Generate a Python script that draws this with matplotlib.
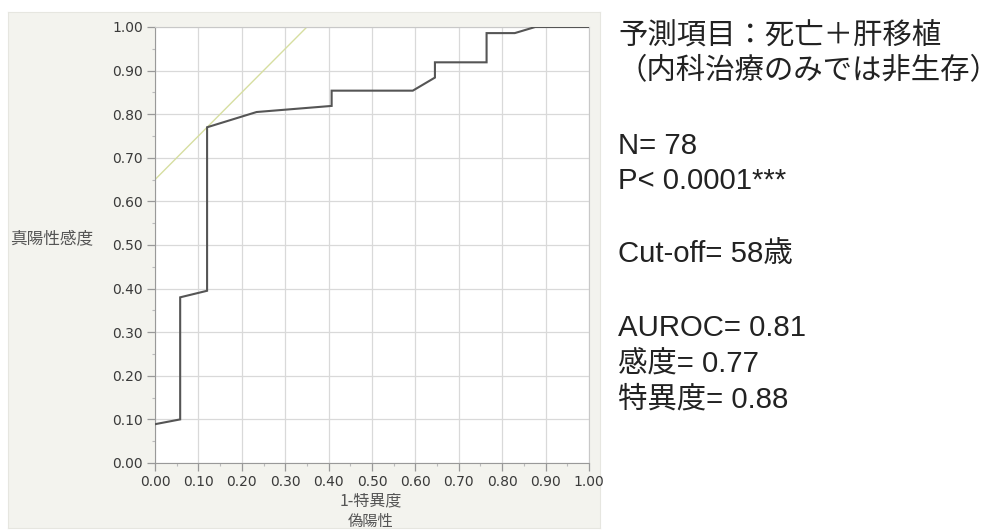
import matplotlib
matplotlib.use("Agg")
import matplotlib.pyplot as plt
from matplotlib.ticker import MultipleLocator, FormatStrFormatter

# ROC curve (1 - specificity vs. sensitivity)
fpr = [0.0, 0.058, 0.058, 0.12, 0.12, 0.234, 0.407, 0.407, 0.594, 0.645, 0.645,
       0.764, 0.764, 0.829, 0.876, 1.0]
tpr = [0.089, 0.10, 0.38, 0.395, 0.77, 0.805, 0.819, 0.854, 0.854, 0.884, 0.919,
       0.919, 0.986, 0.986, 1.0, 1.0]

# Optimal cut-off point
cut_sens = 0.77
cut_spec = 0.88

ytick_vals = [i / 10 for i in range(11)]
xtick_vals = [i / 10 for i in range(11)]

ylabel_text = "真陽性感度"
xlabel_text = "1-特異度"
xlabel2_text = "偽陽性"

info_lines = [
    ("予測項目：死亡＋肝移植", 36),
    ("（内科治療のみでは非生存）", 71),
    ("N= 78", 146),
    ("P< 0.0001***", 181),
    ("Cut-off= 58歳", 254),
    ("AUROC= 0.81", 328),
    ("感度= 0.77", 364),
    ("特異度= 0.88", 400),
]

W, H = 999, 530
fig = plt.figure(figsize=(W / 100, H / 100), dpi=100)
fig.patch.set_facecolor("white")

# light panel behind the plot
bg = fig.add_axes([8 / W, 1 - 528 / H, (600 - 8) / W, (528 - 12) / H], zorder=-5)
bg.set_facecolor("#f3f3ee")
bg.set_xticks([])
bg.set_yticks([])
for s in bg.spines.values():
    s.set_color("#e6e6e0")
    s.set_linewidth(0.8)

ax = fig.add_axes([155 / W, 1 - 463 / H, 434 / W, 436 / H], zorder=2)
ax.set_facecolor("white")
ax.set_xlim(0, 1)
ax.set_ylim(0, 1)

ax.xaxis.set_major_locator(MultipleLocator(0.1))
ax.yaxis.set_major_locator(MultipleLocator(0.1))
ax.xaxis.set_minor_locator(MultipleLocator(0.05))
ax.yaxis.set_minor_locator(MultipleLocator(0.05))
ax.xaxis.set_major_formatter(FormatStrFormatter("%.2f"))
ax.yaxis.set_major_formatter(FormatStrFormatter("%.2f"))
ax.set_xticks(xtick_vals)
ax.set_yticks(ytick_vals)

ax.grid(True, which="major", color="#d9d9d9", linewidth=0.9)
ax.set_axisbelow(True)
ax.tick_params(which="major", length=5.5, width=0.9, color="#999999",
               labelsize=10, labelcolor="#3a3a3a", pad=3)
ax.tick_params(which="minor", length=2.5, width=0.8, color="#bbbbbb")
for lbl in ax.get_xticklabels() + ax.get_yticklabels():
    lbl.set_fontfamily("DejaVu Sans")
    lbl.set_fontweight("medium")
for side in ["left", "bottom"]:
    ax.spines[side].set_color("#999999")
for side in ["top", "right"]:
    ax.spines[side].set_color("#c8c8c8")

# tangent line through the cut-off point (slope 1)
intercept = cut_sens - (1 - cut_spec)
ax.plot([0, 1], [intercept, 1 + intercept], color="#d6dea0", linewidth=1.0,
        zorder=2, clip_on=True)

ax.plot(fpr, tpr, color="#555555", linewidth=1.5, zorder=3,
        solid_joinstyle="miter")

cjk = ["Noto Sans CJK JP", "DejaVu Sans"]
fig.text(52 / W, 1 - 239 / H, ylabel_text, ha="center", va="center",
         fontsize=12, color="#555555", family=cjk)
fig.text(371 / W, 1 - 501 / H, xlabel_text, ha="center", va="center",
         fontsize=11.5, color="#555555", family=cjk)
fig.text(371 / W, 1 - 521 / H, xlabel2_text, ha="center", va="center",
         fontsize=11, color="#555555", family=cjk)

info_font = ["Liberation Sans", "Noto Sans CJK JP"]
for text, yc in info_lines:
    fig.text(618 / W, 1 - yc / H, text, ha="left", va="center",
             fontsize=21.2, color="#222222", family=info_font)

fig.savefig("out.png", dpi=100)
